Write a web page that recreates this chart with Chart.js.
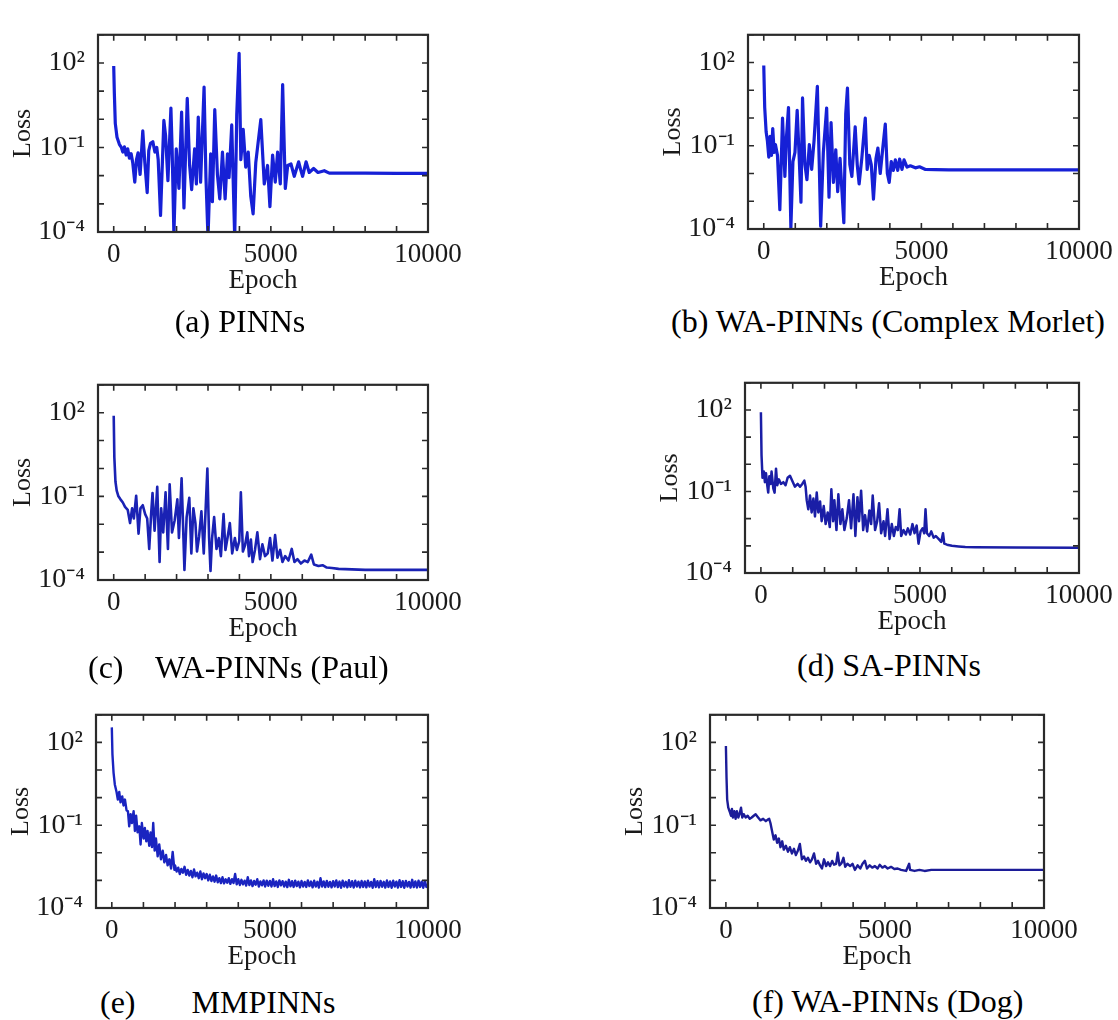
<!DOCTYPE html>
<html>
<head>
<meta charset="utf-8">
<script src="https://cdn.jsdelivr.net/npm/chart.js@4.4.1/dist/chart.umd.min.js"></script>
<style>
    body { margin: 0; background: #fff; width: 1118px; height: 1020px; overflow: hidden; position: relative; }
    canvas { position: absolute; }
    .cap { position: absolute; font-family: 'Liberation Serif', 'Times New Roman', serif; font-size: 32px; line-height: 32px; color: #000; white-space: pre; }
</style>
</head>
<body>
<canvas id="pa" width="473" height="299" style="left:0px;top:5px"></canvas>
<canvas id="pb" width="474" height="296" style="left:650px;top:5px"></canvas>
<canvas id="pc" width="473" height="297" style="left:0px;top:355px"></canvas>
<canvas id="pd" width="477" height="292" style="left:647px;top:353px"></canvas>
<canvas id="pe" width="475" height="295" style="left:-2px;top:685px"></canvas>
<canvas id="pf" width="477" height="295" style="left:612px;top:685px"></canvas>

<div class="cap" style="left:240px;top:305px;transform:translateX(-50%)">(a) PINNs</div>
<div class="cap" style="left:888px;top:305px;transform:translateX(-50%)">(b) WA-PINNs (Complex Morlet)</div>
<div class="cap" style="left:88px;top:651px">(c)    WA-PINNs (Paul)</div>
<div class="cap" style="left:797px;top:649px">(d) SA-PINNs</div>
<div class="cap" style="left:100px;top:986px">(e)       MMPINNs</div>
<div class="cap" style="left:752px;top:985px">(f) WA-PINNs (Dog)</div>

<script>
// axis ticks
const xTickValues = [0, 1000, 2000, 3000, 4000, 5000, 6000, 7000, 8000, 9000, 10000];
const xTickText = ['0', '', '', '', '', '5000', '', '', '', '', '10000'];
const yTickValues = [1e-4, 1e-3, 1e-2, 1e-1, 1, 10, 100, 1000];
const yTickText = ['10⁻⁴', '', '', '10⁻¹', '', '', '10²', ''];

// (a) PINNs
const epochA = [0,20,50,105,180,245,290,340,395,445,500,555,605,670,725,775,840,925,990,1065,
    1115,1170,1245,1310,1370,1415,1490,1595,1650,1725,1820,1860,1915,1990,2075,2160,2235,2340,2415,2480,
    2575,2630,2690,2765,2875,2935,3000,3085,3140,3215,3300,3375,3460,3545,3620,3670,3755,3850,3915,3990,
    4045,4120,4200,4280,4360,4435,4520,4680,4790,4895,4970,5055,5140,5215,5300,5375,5460,5535,5640,5745,
    5885,5950,6010,6120,6220,6360,6500,6700,6860,7180,8000,9000,10000];
const lossA = [78,8.5,0.72,0.23,0.13,0.1,0.069,0.105,0.054,0.089,0.042,0.06,0.029,0.0059,0.037,0.065,0.011,0.39,0.029,0.0025,
    0.078,0.14,0.16,0.069,0.1,0.037,0.00039,0.91,0.27,0.0066,2.5,0.078,0.00008,0.089,0.0035,1.8,0.00072,5.5,0.023,0.0032,
    0.089,0.0051,1.2,0.0059,14,0.0085,0.00006,0.06,0.0012,2.2,0.011,0.0015,0.069,0.0015,0.06,0.0085,0.63,0.00006,1.5,220,
    0.037,0.44,0.02,0.069,0.0019,0.00044,0.029,0.98,0.0051,0.023,0.0008,0.054,0.0059,0.069,0.0051,17,0.0035,0.023,0.026,0.0095,
    0.031,0.016,0.0095,0.031,0.013,0.018,0.013,0.015,0.0123,0.0123,0.0122,0.0121,0.012];

// (b) WA-PINNs (Complex Morlet)
const epochB = [0,30,75,115,160,200,245,285,330,370,435,510,595,670,720,785,860,925,990,1060,
    1125,1180,1230,1305,1370,1445,1520,1595,1700,1765,1805,1890,1995,2070,2135,2210,2285,2345,2420,2475,
    2540,2600,2655,2730,2795,2900,2965,3025,3110,3220,3280,3345,3410,3480,3560,3620,3695,3770,3855,3920,
    3980,4045,4110,4175,4250,4310,4385,4450,4545,4650,4810,4940,5130,5450,5870,7000,8500,10000];
const lossB = [78,2.4,0.32,0.15,0.039,0.22,0.045,0.42,0.058,0.11,0.045,0.0005,1.0,0.0078,0.2,2.4,0.00011,0.027,0.058,1.9,
    0.035,0.00093,5.3,0.021,0.006,0.11,0.014,0.15,14,0.013,0.000126,0.058,2.3,0.0014,0.69,0.0048,0.072,0.0022,0.035,0.0029,
    0.00017,1.4,12,0.021,0.0078,0.48,0.021,0.0042,0.035,1.0,0.014,0.045,0.021,0.0012,0.035,0.083,0.01,0.072,0.6,0.01,
    0.0048,0.027,0.013,0.031,0.013,0.033,0.014,0.031,0.017,0.019,0.016,0.0175,0.014,0.0137,0.0135,0.0135,0.0135,0.0135];

// (c) WA-PINNs (Paul)
const epochC = [0,20,55,95,150,215,290,360,445,520,585,640,715,790,850,925,1000,1065,1130,1190,
    1235,1300,1385,1460,1510,1575,1650,1725,1780,1855,1940,2025,2075,2160,2250,2320,2405,2470,2535,2600,
    2650,2715,2790,2865,2930,2980,3035,3080,3130,3195,3270,3345,3410,3495,3555,3620,3695,3770,3855,3920,
    3995,4045,4110,4175,4250,4305,4365,4420,4495,4570,4655,4730,4815,4900,4975,5050,5135,5210,5295,5370,
    5455,5560,5665,5750,5845,5955,6070,6175,6285,6370,6515,6645,6780,6940,7155,8000,9000,10000];
const lossC = [78,2.5,0.34,0.16,0.1,0.078,0.06,0.042,0.033,0.011,0.037,0.016,0.105,0.0046,0.037,0.048,0.023,0.016,0.0013,0.023,
    0.13,0.0059,0.22,0.00044,0.037,0.0051,0.14,0.0013,0.27,0.0051,0.014,0.078,0.0032,0.44,0.00023,0.018,0.089,0.0009,0.037,0.011,
    0.00105,0.0035,0.029,0.0009,0.048,1.0,0.0032,0.00021,0.0032,0.018,0.0013,0.0032,0.00072,0.023,0.0012,0.0032,0.011,0.0009,0.0032,0.0012,
    0.0025,0.14,0.00105,0.0017,0.0051,0.00072,0.0028,0.00044,0.0012,0.0051,0.00056,0.0019,0.00072,0.0009,0.0032,0.0005,0.0041,0.00063,0.0012,0.00044,
    0.00072,0.0005,0.0013,0.00044,0.00056,0.00039,0.0005,0.00044,0.00081,0.00036,0.00032,0.00034,0.00028,0.00027,0.00025,0.00023,0.00023,0.00023];

// (d) SA-PINNs
const epochD = [0,20,50,95,125,160,200,230,265,305,335,390,430,475,515,565,630,705,775,840,
    915,985,1070,1155,1230,1300,1365,1405,1440,1490,1545,1595,1650,1700,1755,1805,1860,1910,1975,2035,
    2100,2165,2215,2270,2310,2375,2435,2500,2560,2625,2700,2770,2835,2910,2970,3035,3085,3150,3215,3275,
    3340,3410,3465,3515,3590,3655,3715,3780,3855,3905,3980,4045,4115,4180,4240,4305,4360,4410,4485,4555,
    4620,4695,4765,4830,4895,4955,5020,5080,5135,5175,5220,5290,5355,5430,5500,5585,5670,5725,5765,5850,
    6005,6215,6425,6740,8000,10000];
const lossD = [83,2.1,0.32,0.54,0.22,0.47,0.17,0.091,0.36,0.19,0.54,0.13,0.091,0.69,0.17,0.28,0.19,0.22,0.17,0.32,
    0.38,0.25,0.15,0.19,0.15,0.19,0.25,0.15,0.048,0.022,0.071,0.017,0.055,0.012,0.091,0.017,0.043,0.0081,0.029,0.0063,
    0.017,0.0049,0.12,0.0081,0.048,0.0038,0.079,0.0063,0.022,0.0038,0.0105,0.048,0.0044,0.079,0.0023,0.062,0.0081,0.107,0.0038,0.0135,
    0.0034,0.02,0.0063,0.071,0.0038,0.0081,0.037,0.0029,0.0081,0.0023,0.022,0.0018,0.0063,0.0023,0.0049,0.0038,0.022,0.0023,0.0038,0.0026,
    0.0044,0.0026,0.0063,0.0029,0.0056,0.0012,0.0034,0.0044,0.0029,0.022,0.0029,0.0023,0.0034,0.002,0.0023,0.0018,0.0014,0.0029,0.0012,0.0011,
    0.001,0.00095,0.0009,0.00088,0.00086,0.00085];

// (e) MMPINNs
const epochE = [0,20,55,95,150,190,235,275,330,370,415,465,510,550,595,635,690,730,770,815,
    870,910,950,1005,1045,1090,1130,1185,1225,1270,1310,1355,1395,1450,1500,1555,1610,1660,1715,1765,
    1820,1875,1925,1980,
    2000,2050,2100,2150,2200,2250,2300,2350,2400,2450,2500,2550,2600,2650,2700,2750,2800,2850,2900,2950,
    3000,3050,3100,3150,3200,3250,3300,3350,3400,3450,3500,3550,3600,3650,3700,3750,3800,3850,3900,3950,
    4000,4050,4100,4150,4200,4250,4300,4350,4400,4450,4500,4550,4600,4650,4700,4750,4800,4850,4900,4950,
    5000,5050,5100,5150,5200,5250,5300,5350,5400,5450,5500,5550,5600,5650,5700,5750,5800,5850,5900,5950,
    6000,6050,6100,6150,6200,6250,6300,6350,6400,6450,6500,6550,6600,6650,6700,6750,6800,6850,6900,6950,
    7000,7050,7100,7150,7200,7250,7300,7350,7400,7450,7500,7550,7600,7650,7700,7750,7800,7850,7900,7950,
    8000,8050,8100,8150,8200,8250,8300,8350,8400,8450,8500,8550,8600,8650,8700,8750,8800,8850,8900,8950,
    9000,9050,9100,9150,9200,9250,9300,9350,9400,9450,9500,9550,9600,9650,9700,9750,9800,9850,9900,9950,
    10000];
const lossE = [350,37,8.1,3,1.6,0.85,1.6,0.67,1.1,0.52,0.85,0.35,0.32,0.091,0.25,0.12,0.32,0.062,0.22,0.055,
    0.091,0.02,0.12,0.033,0.079,0.026,0.062,0.018,0.055,0.016,0.12,0.012,0.033,0.0074,0.02,0.0058,0.012,0.0045,0.0083,0.0035,
    0.0058,0.0027,0.0107,0.0024,
    0.0035,0.0021,0.0029,0.0017,0.0026,0.0019,0.0031,0.0016,0.0024,0.0015,0.0022,0.0013,0.0025,0.0014,0.0019,0.0012,0.0021,0.0011,0.0018,0.0012,
    0.0017,0.001,0.0016,0.00095,0.0014,0.0009,0.0015,0.00085,0.0012,0.0008,0.0013,0.00078,0.0011,0.00082,0.0012,0.00075,0.0011,0.0008,0.0017,0.00072,
    0.0011,0.00068,0.00105,0.00072,0.00098,0.00065,0.0013,0.00068,0.001,0.00062,0.00095,0.0007,0.0011,0.0006,0.00092,0.00066,0.001,0.0006,0.00098,0.00064,
    0.00096,0.0006,0.0011,0.00062,0.00092,0.00058,0.001,0.00066,0.00094,0.0006,0.0009,0.00057,0.00105,0.00061,0.00093,0.00058,0.00098,0.00062,0.0009,0.00056,
    0.00095,0.0006,0.00088,0.00058,0.001,0.00062,0.00091,0.00056,0.00097,0.0006,0.00089,0.00055,0.0012,0.0006,0.00092,0.00057,0.00096,0.00059,0.00088,0.00056,
    0.00094,0.0006,0.001,0.00057,0.00091,0.00054,0.00098,0.0006,0.00089,0.00056,0.00102,0.00059,0.00093,0.00055,0.00097,0.0006,0.0009,0.00056,0.00095,0.00058,
    0.00092,0.00056,0.00098,0.0006,0.00088,0.00054,0.0011,0.00058,0.00093,0.00056,0.00096,0.00059,0.00089,0.00055,0.00099,0.00058,0.00092,0.00054,0.00097,0.0006,
    0.0009,0.00055,0.00101,0.00058,0.00093,0.00054,0.00096,0.0006,0.00088,0.00055,0.00105,0.00057,0.00092,0.00055,0.00098,0.00058,0.0009,0.00054,0.00096,0.00058,
    0.0007];

// (f) WA-PINNs (Dog)
const epochF = [0,20,40,75,115,160,190,220,265,305,345,390,430,475,515,560,620,685,750,810,
    875,935,1000,1085,1170,1255,1315,1360,1400,1455,1505,1560,1610,1665,1715,1770,1820,1885,1950,2010,
    2075,2140,2200,2265,2325,2390,2455,2515,2580,2645,2705,2770,2835,2895,2960,3020,3085,3150,3210,3275,
    3340,3400,3465,3515,3570,3635,3695,3750,3820,3905,3980,4055,4140,4225,4295,4370,4435,4520,4600,4685,
    4770,4835,4920,5000,5085,5190,5295,5400,5505,5665,5760,5790,5930,6085,6245,6455,6770,8000,10000];
const lossF = [74,5,0.85,0.43,0.32,0.22,0.39,0.19,0.32,0.17,0.32,0.19,0.26,0.43,0.19,0.25,0.19,0.22,0.17,0.19,
    0.22,0.25,0.2,0.15,0.17,0.14,0.16,0.17,0.12,0.058,0.03,0.043,0.023,0.033,0.016,0.026,0.013,0.018,0.011,0.016,
    0.0095,0.014,0.0083,0.012,0.021,0.0058,0.0074,0.0051,0.0066,0.0045,0.0058,0.0095,0.004,0.0051,0.0035,0.0027,0.0058,0.0033,0.0045,0.0033,
    0.0051,0.0037,0.004,0.01,0.0035,0.0042,0.0066,0.0031,0.004,0.0033,0.004,0.0024,0.0035,0.0027,0.004,0.0051,0.0027,0.0035,0.0029,0.0033,
    0.0027,0.0037,0.0029,0.0033,0.0027,0.0031,0.0026,0.0027,0.0024,0.0022,0.004,0.0024,0.0022,0.0024,0.0022,0.0024,0.0024,0.0024,0.0024];

const serif = "'Liberation Serif', 'Times New Roman', serif";

// box round the plot with inward ticks on all four sides
const framePlugin = {
    id: 'frame',
    afterDraw(chart) {
        const { ctx, chartArea: a, scales } = chart;
        ctx.save();
        ctx.strokeStyle = '#2a2a2a';
        ctx.lineWidth = 1.6;
        ctx.beginPath();
        scales.x.ticks.forEach(t => {
            const px = scales.x.getPixelForValue(t.value);
            ctx.moveTo(px, a.bottom); ctx.lineTo(px, a.bottom - 6);
            ctx.moveTo(px, a.top); ctx.lineTo(px, a.top + 6);
        });
        scales.y.ticks.forEach(t => {
            const py = scales.y.getPixelForValue(t.value);
            ctx.moveTo(a.left, py); ctx.lineTo(a.left + 6, py);
            ctx.moveTo(a.right, py); ctx.lineTo(a.right - 6, py);
        });
        ctx.stroke();
        ctx.lineWidth = 2.2;
        ctx.strokeRect(a.left, a.top, a.right - a.left, a.bottom - a.top);
        ctx.restore();
    }
};

const makeChart = (id, epochs, losses, color, width) => {
    const ctx = document.getElementById(id).getContext('2d');
    return new Chart(ctx, {
        type: 'line',
        data: {
            datasets: [{
                data: epochs.map((e, i) => ({ x: e, y: losses[i] })),
                borderColor: color,
                borderWidth: width,
                borderJoinStyle: 'round',
                pointRadius: 0,
                tension: 0,
                fill: false,
            }]
        },
        options: {
            animation: false,
            responsive: false,
            devicePixelRatio: 1,
            layout: { padding: { top: 8, right: 45, left: 0, bottom: 0 } },
            plugins: { legend: { display: false }, tooltip: { enabled: false } },
            scales: {
                x: {
                    type: 'linear',
                    min: -500,
                    max: 10000,
                    afterBuildTicks: s => { s.ticks = xTickValues.map(v => ({ value: v })); },
                    afterFit: s => { s.height = 72; },
                    grid: { display: false, drawTicks: false },
                    border: { display: false },
                    ticks: {
                        autoSkip: false, maxRotation: 0, padding: 7, color: '#1a1a1a',
                        font: { family: serif, size: 27 },
                        callback: (v, i) => xTickText[i],
                    },
                    title: {
                        display: true, text: 'Epoch', color: '#1a1a1a',
                        font: { family: serif, size: 27 }, padding: { top: 0, bottom: 7 },
                    },
                },
                y: {
                    type: 'logarithmic',
                    min: 1e-4,
                    max: 1e3,
                    afterBuildTicks: s => { s.ticks = yTickValues.map(v => ({ value: v })); },
                    afterFit: s => { s.width = 98; },
                    grid: { display: false, drawTicks: false },
                    border: { display: false },
                    ticks: {
                        autoSkip: false, padding: 13, color: '#1a1a1a',
                        font: { family: serif, size: 28 },
                        callback: (v, i) => yTickText[i],
                    },
                    title: {
                        display: true, text: 'Loss', color: '#1a1a1a',
                        font: { family: serif, size: 26 }, padding: { top: 8, bottom: 0 },
                    },
                },
            },
        },
        plugins: [framePlugin],
    });
};

makeChart('pa', epochA, lossA, '#1620d6', 3.2);
makeChart('pb', epochB, lossB, '#1620d6', 3.2);
makeChart('pc', epochC, lossC, '#1a22b4', 2.6);
makeChart('pd', epochD, lossD, '#1a1ea6', 2.5);
makeChart('pe', epochE, lossE, '#1a24c0', 2.4);
makeChart('pf', epochF, lossF, '#1c1c98', 2.4);
</script>
</body>
</html>
